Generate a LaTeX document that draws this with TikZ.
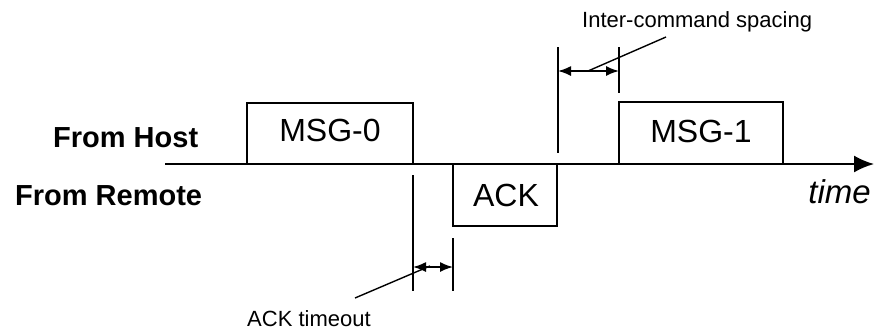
\documentclass[tikz,border=0pt]{standalone}
\usepackage{fontspec}
\setmainfont{Liberation Sans}
\usetikzlibrary{arrows.meta}
\begin{document}
\begin{tikzpicture}[x=1pt,y=-1pt,
  ln/.style={line width=2pt},
  dim/.style={line width=1.6pt,{Latex[length=13pt,width=10pt]}-{Latex[length=13pt,width=10pt]}},
  lead/.style={line width=1.4pt},
  big/.style={inner sep=0pt,font=\fontsize{32}{36}\selectfont},
  lab/.style={inner sep=0pt,font=\fontsize{29}{32}\selectfont\bfseries},
  small/.style={inner sep=0pt,font=\fontsize{22}{26}\selectfont}]
\useasboundingbox (0,0) rectangle (874,330);
% axis
\coordinate (axs) at (165,164);
\coordinate (axe) at (874,164);
\draw[ln,-{Latex[length=20pt,width=17pt]}] (axs) -- (axe);
% boxes
\coordinate (m0a) at (247,164); \coordinate (m0b) at (247,103);
\coordinate (m0c) at (413,103); \coordinate (m0d) at (413,164);
\draw[ln] (m0a) -- (m0b) -- (m0c) -- (m0d);
\node[big,anchor=base] (msg0) at (330,141) {MSG-0};
\coordinate (aka) at (453,164); \coordinate (akb) at (453,226);
\coordinate (akc) at (557,226); \coordinate (akd) at (557,164);
\draw[ln] (aka) -- (akb) -- (akc) -- (akd);
\node[big,anchor=base] (ack) at (506,206) {ACK};
\coordinate (m1a) at (619,164); \coordinate (m1b) at (619,102);
\coordinate (m1c) at (783,102); \coordinate (m1d) at (783,164);
\draw[ln] (m1a) -- (m1b) -- (m1c) -- (m1d);
\node[big,anchor=base] (msg1) at (701,142) {MSG-1};
% labels
\node[lab,anchor=base west] (host) at (53,147) {From Host};
\node[lab,anchor=base west] (remote) at (15,205) {From Remote};
\node[big,anchor=base east,font=\fontsize{33}{36}\selectfont\itshape] (time) at (871,203) {time};
% ACK timeout
\coordinate (t1a) at (413,175); \coordinate (t1b) at (413,291);
\coordinate (t2a) at (453,238); \coordinate (t2b) at (453,291);
\draw[ln] (t1a) -- (t1b);
\draw[ln] (t2a) -- (t2b);
\coordinate (ta) at (413,267); \coordinate (tb) at (453,267);
\draw[dim] (ta) -- (tb);
\node[small,anchor=base west] (acktxt) at (247,326) {ACK timeout};
\coordinate (lt1) at (355,298); \coordinate (lt2) at (430,266);
\draw[lead] (lt1) -- (lt2);
% Inter-command spacing
\coordinate (s1a) at (558,47); \coordinate (s1b) at (558,153);
\coordinate (s2a) at (619,47); \coordinate (s2b) at (619,93);
\draw[ln] (s1a) -- (s1b);
\draw[ln] (s2a) -- (s2b);
\coordinate (sa) at (558,71); \coordinate (sb) at (619,71);
\draw[dim] (sa) -- (sb);
\node[small,anchor=base west] (ictxt) at (582,27) {Inter-command spacing};
\coordinate (ls1) at (666,37); \coordinate (ls2) at (588,71);
\draw[lead] (ls1) -- (ls2);
\end{tikzpicture}
\end{document}
